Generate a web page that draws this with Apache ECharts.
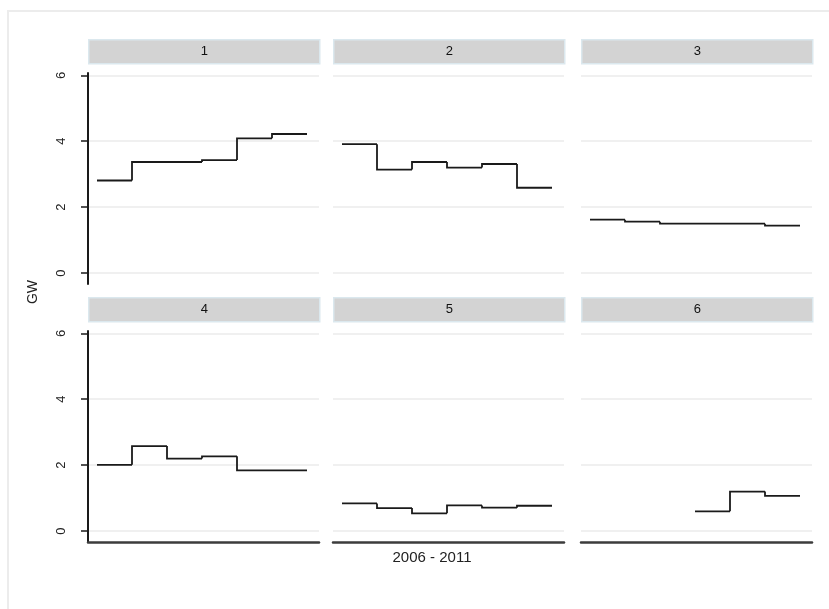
<!DOCTYPE html>
<html>
<head>
<meta charset="utf-8">
<title>GW by group, 2006 - 2011</title>
<script src="https://cdn.jsdelivr.net/npm/echarts@6/dist/echarts.min.js"></script>
<style>
  html, body { margin: 0; padding: 0; background: #ffffff; }
  #chart { width: 829px; height: 609px; }
</style>
</head>
<body>
<div id="chart"></div>
<script>
// Yearly values (GW) for each group; a step holds its value for the whole year.
const years = [2006, 2007, 2008, 2009, 2010, 2011];
const groups = ['1', '2', '3', '4', '5', '6'];
const gw1 = [2.81, 3.37, 3.37, 3.43, 4.09, 4.22];
const gw2 = [3.91, 3.14, 3.37, 3.20, 3.31, 2.59];
const gw3 = [1.62, 1.56, 1.50, 1.50, 1.50, 1.44];
const gw4 = [2.01, 2.58, 2.20, 2.27, 1.84, 1.84];
const gw5 = [0.84, 0.70, 0.54, 0.78, 0.71, 0.77];
const gw6 = [null, null, null, 0.60, 1.20, 1.07];
const yTicks = [0, 2, 4, 6];
const xTitle = '2006 - 2011';
const yTitle = 'GW';

const seriesValues = [gw1, gw2, gw3, gw4, gw5, gw6];

// Panel layout (pixels)
const colLeft = [88, 333, 581];
const panelW = 231;
const rowTop = [73, 331];
const panelH = 211;
const headerGap = 34;
const headerH = 24;
const font = 'Liberation Sans, Arial, Helvetica, sans-serif';
const stepColor = '#1a1a1a';

// One record per year: [yearStart, yearEnd, value, previousValue].
// The riser at yearStart joins the previous year's level to this one.
function stepSegments(vals) {
  const segs = [];
  let prev = null;
  years.forEach((yr, i) => {
    if (vals[i] === null) return;
    segs.push([yr, yr + 1, vals[i], prev === null ? vals[i] : prev]);
    prev = vals[i];
  });
  return segs;
}

function renderStep(params, api) {
  const x0 = api.value(0), x1 = api.value(1), y = api.value(2), yPrev = api.value(3);
  return {
    type: 'polyline',
    shape: { points: [api.coord([x0, yPrev]), api.coord([x0, y]), api.coord([x1, y])] },
    style: { stroke: stepColor, lineWidth: 1.8, fill: null, lineJoin: 'miter', lineCap: 'butt' },
    silent: true
  };
}

const grids = [], xAxes = [], yAxes = [], series = [], graphics = [];

groups.forEach((name, k) => {
  const row = Math.floor(k / 3), col = k % 3;
  const left = colLeft[col], top = rowTop[row];
  grids.push({ left: left, top: top, width: panelW, height: panelH, containLabel: false });

  xAxes.push({
    type: 'value', gridIndex: k,
    min: years[0] - 9 / 35, max: years[0] - 9 / 35 + panelW / 35,
    axisLine: { show: row === 1, onZero: false, lineStyle: { color: '#3c3c3c', width: 2.5 } },
    axisTick: { show: false }, axisLabel: { show: false }, splitLine: { show: false }
  });

  yAxes.push({
    type: 'value', gridIndex: k,
    min: -0.33, max: 6.07,
    axisLine: { show: col === 0, onZero: false, lineStyle: { color: '#1a1a1a', width: 2 } },
    axisTick: { show: col === 0, customValues: yTicks, length: 7, lineStyle: { color: '#1a1a1a', width: 1.5 } },
    axisLabel: {
      show: col === 0, customValues: yTicks, rotate: 90, margin: 20,
      color: '#222', fontSize: 13, fontFamily: font
    },
    splitLine: { show: true, lineStyle: { color: '#ebebeb', width: 1.5 } }
  });

  series.push({
    type: 'custom', xAxisIndex: k, yAxisIndex: k,
    data: stepSegments(seriesValues[k]),
    encode: { x: [0, 1], y: [2, 3] },
    renderItem: renderStep,
    silent: true
  });

  // Strip header with the group label
  graphics.push({
    type: 'group', left: left, top: top - headerGap,
    children: [
      { type: 'rect', shape: { x: 0, y: 0, width: panelW, height: headerH },
        style: { fill: '#d3d3d3', stroke: '#dbe8ee', lineWidth: 1.5 } },
      { type: 'text', x: panelW / 2, y: headerH / 2,
        style: { text: name, fill: '#111', font: '13px ' + font, textAlign: 'center', textVerticalAlign: 'middle' } }
    ]
  });
});

// Outer frame
graphics.unshift({
  type: 'rect', left: 7, top: 10, z: -10,
  shape: { x: 0, y: 0, width: 840, height: 620 },
  style: { fill: '#ffffff', stroke: '#ececec', lineWidth: 2 }
});

// Shared axis titles
graphics.push({
  type: 'text', x: 33, y: 292, rotation: Math.PI / 2,
  style: { text: yTitle, fill: '#222', font: '14px ' + font, textAlign: 'center', textVerticalAlign: 'middle' }
});
graphics.push({
  type: 'text', x: 432, y: 558,
  style: { text: xTitle, fill: '#222', font: '15px ' + font, textAlign: 'center', textVerticalAlign: 'middle' }
});

const chart = echarts.init(document.getElementById('chart'), null, { renderer: 'canvas' });
chart.setOption({
  animation: false,
  backgroundColor: '#ffffff',
  grid: grids,
  xAxis: xAxes,
  yAxis: yAxes,
  series: series,
  graphic: graphics
});
</script>
</body>
</html>
